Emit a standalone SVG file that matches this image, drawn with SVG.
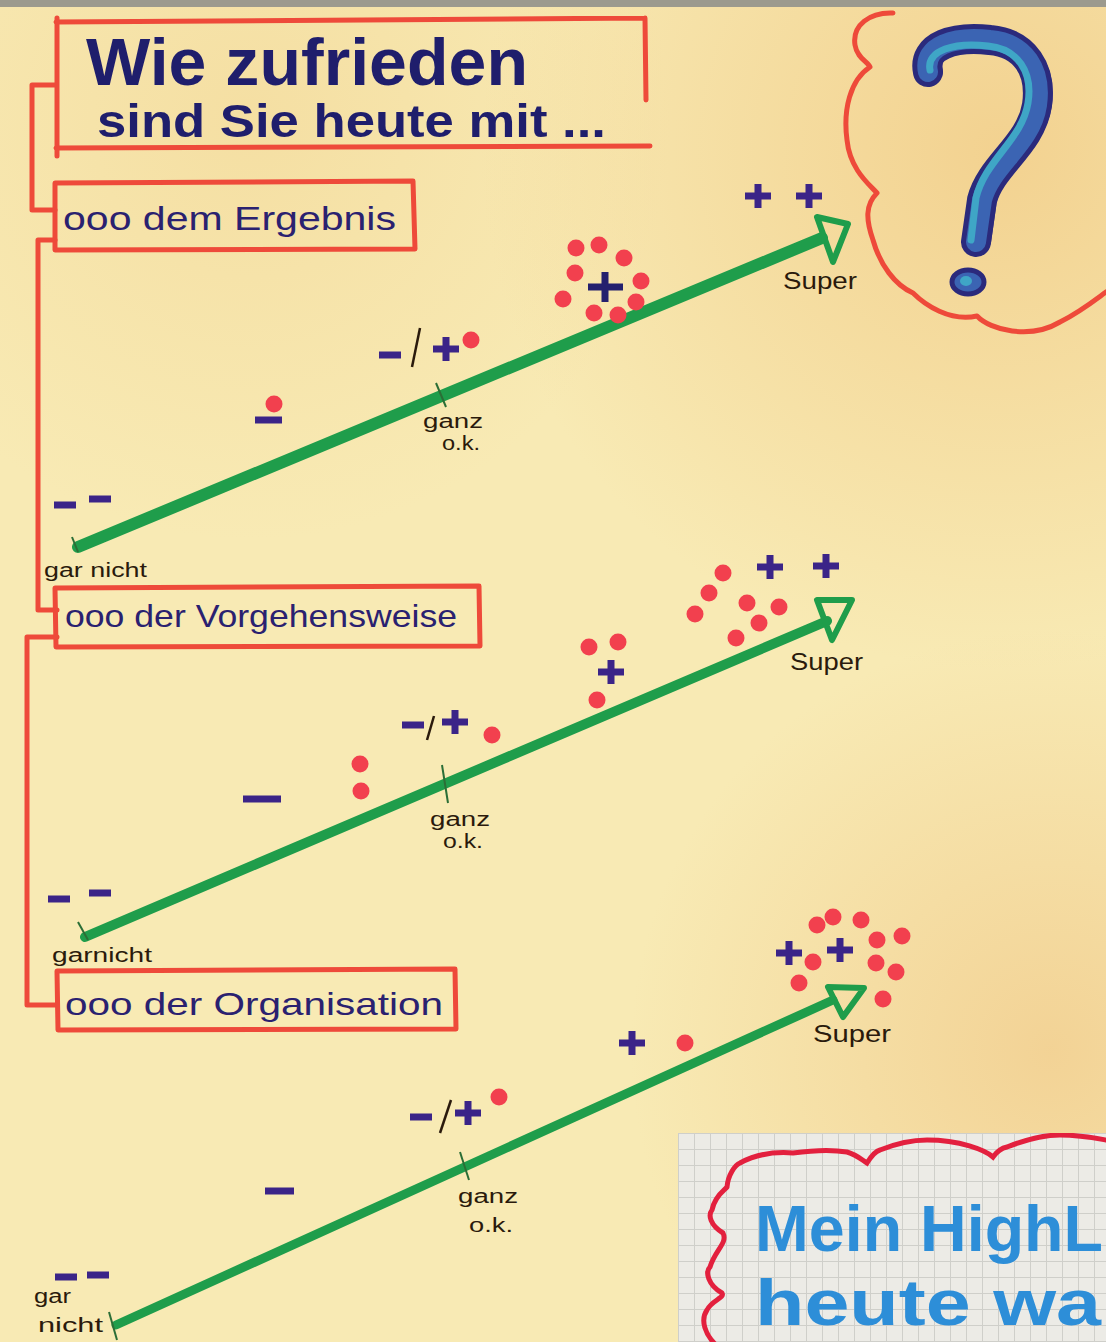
<svg xmlns="http://www.w3.org/2000/svg" xmlns:xlink="http://www.w3.org/1999/xlink" width="1106" height="1342" viewBox="0 0 1106 1342">
  <defs>
    <radialGradient id="warmTR" cx="1000" cy="150" r="520" gradientUnits="userSpaceOnUse">
      <stop offset="0" stop-color="#f2cf8c" stop-opacity="0.9"/>
      <stop offset="1" stop-color="#f2cf8c" stop-opacity="0"/>
    </radialGradient>
    <radialGradient id="warmBR" cx="1050" cy="1050" r="420" gradientUnits="userSpaceOnUse">
      <stop offset="0" stop-color="#f2d092" stop-opacity="0.9"/>
      <stop offset="1" stop-color="#f2d092" stop-opacity="0"/>
    </radialGradient>
    <radialGradient id="warmTL" cx="250" cy="120" r="420" gradientUnits="userSpaceOnUse">
      <stop offset="0" stop-color="#f4dc9e" stop-opacity="0.8"/>
      <stop offset="1" stop-color="#f4dc9e" stop-opacity="0"/>
    </radialGradient>
    <pattern id="grid" x="678" y="1133" width="16" height="16" patternUnits="userSpaceOnUse">
      <rect width="16" height="16" fill="#ecebe6"/>
      <path d="M0,0.5H16M0.5,0V16" stroke="#cfcfca" stroke-width="1" fill="none"/>
    </pattern>
    <clipPath id="insetClip"><rect x="678" y="1133" width="428" height="209"/></clipPath>
    <path id="plus" d="M-13,0H13M0,-12V12"/>
    <path id="minus" d="M-11,0H11"/>
  </defs>
  <style>
    .red { fill: none; stroke: #ee4a3a; stroke-width: 5; stroke-linecap: round; stroke-linejoin: round; }
    .title { font-family: "Liberation Sans", "Noto Sans", sans-serif; fill: #1f1e6c; font-weight: bold; }
    .item { font-family: "Liberation Sans", "Noto Sans", sans-serif; fill: #2a2170; }
    .hand { font-family: "Liberation Sans", "Noto Sans", sans-serif; fill: #2a1a0c; font-size: 20px; }
    .super { font-family: "Liberation Sans", "Noto Sans", sans-serif; fill: #2a1a0c; font-size: 24px; }
    .scale { fill: none; stroke: #1f9d4b; stroke-linecap: round; }
    .head { fill: none; stroke: #1f9d4b; stroke-width: 6; stroke-linejoin: round; }
    .tick { stroke: #2b6e36; stroke-width: 2; }
    .p { stroke: #3b2488; stroke-width: 7; fill: none; }
    .dot { fill: #f2404e; }
    .blue { font-family: "Liberation Sans", "Noto Sans", sans-serif; font-weight: bold; font-size: 65px; fill: #2d8ed8; }
  </style>

  <!-- paper -->
  <rect x="0" y="0" width="1106" height="1342" fill="#f8eab4"/>
  <rect x="0" y="0" width="1106" height="1342" fill="url(#warmTL)"/>
  <rect x="0" y="0" width="1106" height="1342" fill="url(#warmTR)"/>
  <rect x="0" y="0" width="1106" height="1342" fill="url(#warmBR)"/>
  <rect x="0" y="0" width="1106" height="7" fill="#9c9a8e"/>

  <!-- connectors (left brackets) -->
  <g id="connectors">
    <path class="red" d="M55,85 H32 V210 H55"/>
    <path class="red" d="M55,240 H38 V610 H57"/>
    <path class="red" d="M57,637 H27 V1005 H57"/>
  </g>

  <g id="title">
    <path class="red" d="M56,22 L645,18 M645,18 L646,100 M56,148 L650,146 M57,18 L57,156"/>
    <text class="title" x="86" y="85" font-size="66" textLength="442" lengthAdjust="spacingAndGlyphs">Wie zufrieden</text>
    <text class="title" x="97" y="137" font-size="46" textLength="509" lengthAdjust="spacingAndGlyphs">sind Sie heute mit ...</text>
  </g>

  <g id="box-ergebnis">
    <path class="red" d="M55,183 L413,181 L415,249 L55,250 Z"/>
    <text class="item" x="63" y="230" font-size="34" textLength="333" lengthAdjust="spacingAndGlyphs">ooo dem Ergebnis</text>
  </g>

  <g id="box-vorgehensweise">
    <path class="red" d="M55,588 L479,586 L480,646 L56,647 Z"/>
    <text class="item" x="65" y="627" font-size="32" textLength="392" lengthAdjust="spacingAndGlyphs">ooo der Vorgehensweise</text>
  </g>

  <g id="box-organisation">
    <path class="red" d="M57,971 L455,969 L456,1029 L58,1030 Z"/>
    <text class="item" x="65" y="1015" font-size="32" textLength="378" lengthAdjust="spacingAndGlyphs">ooo der Organisation</text>
  </g>

  <g id="question-cloud">
    <path class="red" d="M893,13 C870,12 852,25 855,45 C857,58 868,62 870,67 C850,80 843,110 847,140 C850,170 870,185 877,193 C865,205 866,220 873,240 C880,265 895,285 913,293 C925,305 950,322 977,316 C990,330 1030,340 1060,322 C1080,312 1095,300 1106,292"/>
    <g fill="none" stroke-linecap="round" stroke-linejoin="round">
      <path d="M936,72 C930,45 963,36 998,40 C1033,43 1050,70 1045,105 C1039,145 999,165 990,200 L984,242" stroke="#4a3a92" stroke-width="14"/>
      <path d="M928,72 C922,45 955,36 990,40 C1025,43 1042,70 1037,105 C1031,145 991,165 982,200 L976,242" stroke="#2b2a7c" stroke-width="30"/>
      <path d="M928,72 C922,45 955,36 990,40 C1025,43 1042,70 1037,105 C1031,145 991,165 982,200 L976,242" stroke="#3b64b3" stroke-width="20"/>
      <path d="M930,70 C926,50 955,42 988,46 C1018,49 1033,72 1028,103 C1022,140 985,160 976,198 L971,240" stroke="#3fa6c6" stroke-width="7"/>
    </g>
    <ellipse cx="968" cy="282" rx="16" ry="12" fill="#3b64b3" stroke="#2b2a7c" stroke-width="5"/>
    <ellipse cx="966" cy="281" rx="6" ry="5" fill="#3fa6c6"/>
  </g>

  <!-- scale 1: dem Ergebnis -->
  <g id="scale-ergebnis">
    <path class="scale" stroke-width="12" d="M78,547 L822,238"/>
    <path class="head" d="M817,217 L848,224 L833,262 Z"/>
    <line class="tick" x1="72" y1="537" x2="78" y2="552"/>
    <line class="tick" x1="436" y1="383" x2="446" y2="407"/>
    <text class="hand" x="44" y="577" textLength="103" lengthAdjust="spacingAndGlyphs">gar nicht</text>
    <text class="hand" x="423" y="428" textLength="60" lengthAdjust="spacingAndGlyphs">ganz</text>
    <text class="hand" x="442" y="450" textLength="38" lengthAdjust="spacingAndGlyphs">o.k.</text>
    <text class="super" x="783" y="289" textLength="74" lengthAdjust="spacingAndGlyphs">Super</text>
    <use href="#minus" class="p" x="65" y="505"/>
    <use href="#minus" class="p" x="100" y="499"/>
    <circle class="dot" cx="274" cy="404" r="8.5"/>
    <path d="M255,420H282" class="p"/>
    <use href="#minus" class="p" x="390" y="355"/>
    <line x1="412" y1="367" x2="420" y2="328" stroke="#2a1a0c" stroke-width="2.5"/>
    <use href="#plus" class="p" x="446" y="349"/>
    <circle class="dot" cx="471" cy="340" r="8.5"/>
    <circle class="dot" cx="576" cy="248" r="8.5"/>
    <circle class="dot" cx="599" cy="245" r="8.5"/>
    <circle class="dot" cx="624" cy="258" r="8.5"/>
    <circle class="dot" cx="575" cy="273" r="8.5"/>
    <circle class="dot" cx="641" cy="281" r="8.5"/>
    <circle class="dot" cx="563" cy="299" r="8.5"/>
    <circle class="dot" cx="594" cy="313" r="8.5"/>
    <circle class="dot" cx="618" cy="315" r="8.5"/>
    <circle class="dot" cx="636" cy="302" r="8.5"/>
    <path d="M588,287H623M605,272V302" stroke="#24206e" stroke-width="7"/>
    <use href="#plus" class="p" x="758" y="196"/>
    <use href="#plus" class="p" x="809" y="196"/>
  </g>

  <!-- scale 2: der Vorgehensweise -->
  <g id="scale-vorgehensweise">
    <path class="scale" stroke-width="10" d="M85,937 L827,621"/>
    <path class="head" d="M817,600 L852,600 L832,640 Z"/>
    <line class="tick" x1="78" y1="922" x2="88" y2="940"/>
    <line class="tick" x1="442" y1="765" x2="448" y2="803"/>
    <text class="hand" x="52" y="962" textLength="100" lengthAdjust="spacingAndGlyphs">garnicht</text>
    <text class="hand" x="430" y="826" textLength="60" lengthAdjust="spacingAndGlyphs">ganz</text>
    <text class="hand" x="443" y="848" textLength="40" lengthAdjust="spacingAndGlyphs">o.k.</text>
    <text class="super" x="790" y="670" textLength="73" lengthAdjust="spacingAndGlyphs">Super</text>
    <use href="#minus" class="p" x="59" y="899"/>
    <use href="#minus" class="p" x="100" y="893"/>
    <path d="M243,799H281" class="p"/>
    <circle class="dot" cx="360" cy="764" r="8.5"/>
    <circle class="dot" cx="361" cy="791" r="8.5"/>
    <use href="#minus" class="p" x="413" y="725"/>
    <line x1="427" y1="740" x2="434" y2="716" stroke="#2a1a0c" stroke-width="2.5"/>
    <use href="#plus" class="p" x="455" y="722"/>
    <circle class="dot" cx="492" cy="735" r="8.5"/>
    <circle class="dot" cx="589" cy="647" r="8.5"/>
    <circle class="dot" cx="618" cy="642" r="8.5"/>
    <use href="#plus" class="p" x="611" y="672"/>
    <circle class="dot" cx="597" cy="700" r="8.5"/>
    <circle class="dot" cx="723" cy="573" r="8.5"/>
    <circle class="dot" cx="709" cy="593" r="8.5"/>
    <circle class="dot" cx="695" cy="614" r="8.5"/>
    <circle class="dot" cx="747" cy="603" r="8.5"/>
    <circle class="dot" cx="779" cy="607" r="8.5"/>
    <circle class="dot" cx="759" cy="623" r="8.5"/>
    <circle class="dot" cx="736" cy="638" r="8.5"/>
    <use href="#plus" class="p" x="770" y="567"/>
    <use href="#plus" class="p" x="826" y="566"/>
  </g>

  <!-- scale 3: der Organisation -->
  <g id="scale-organisation">
    <path class="scale" stroke-width="9" d="M116,1325 L833,1000"/>
    <path class="head" d="M828,987 L864,988 L843,1017 Z"/>
    <line class="tick" x1="109" y1="1312" x2="117" y2="1340"/>
    <line class="tick" x1="460" y1="1152" x2="469" y2="1180"/>
    <text class="hand" x="34" y="1303" textLength="37" lengthAdjust="spacingAndGlyphs">gar</text>
    <text class="hand" x="38" y="1332" textLength="65" lengthAdjust="spacingAndGlyphs">nicht</text>
    <text class="hand" x="458" y="1203" textLength="60" lengthAdjust="spacingAndGlyphs">ganz</text>
    <text class="hand" x="469" y="1232" textLength="44" lengthAdjust="spacingAndGlyphs">o.k.</text>
    <text class="super" x="813" y="1042" font-size="22" textLength="78" lengthAdjust="spacingAndGlyphs">Super</text>
    <use href="#minus" class="p" x="66" y="1277"/>
    <use href="#minus" class="p" x="98" y="1275"/>
    <path d="M265,1191H294" class="p"/>
    <use href="#minus" class="p" x="421" y="1117"/>
    <line x1="440" y1="1133" x2="451" y2="1100" stroke="#2a1a0c" stroke-width="2.5"/>
    <use href="#plus" class="p" x="468" y="1113"/>
    <circle class="dot" cx="499" cy="1097" r="8.5"/>
    <use href="#plus" class="p" x="632" y="1043"/>
    <circle class="dot" cx="685" cy="1043" r="8.5"/>
    <circle class="dot" cx="817" cy="925" r="8.5"/>
    <circle class="dot" cx="833" cy="917" r="8.5"/>
    <circle class="dot" cx="861" cy="920" r="8.5"/>
    <circle class="dot" cx="877" cy="940" r="8.5"/>
    <circle class="dot" cx="902" cy="936" r="8.5"/>
    <circle class="dot" cx="813" cy="962" r="8.5"/>
    <circle class="dot" cx="876" cy="963" r="8.5"/>
    <circle class="dot" cx="896" cy="972" r="8.5"/>
    <circle class="dot" cx="799" cy="983" r="8.5"/>
    <circle class="dot" cx="883" cy="999" r="8.5"/>
    <use href="#plus" class="p" x="789" y="953"/>
    <use href="#plus" class="p" x="840" y="950"/>
  </g>

  <!-- highlight sheet (bottom right) -->
  <g id="highlight-sheet" clip-path="url(#insetClip)">
    <rect x="678" y="1133" width="428" height="209" fill="url(#grid)"/>
    <path d="M717,1346 C705,1335 700,1320 707,1310 C712,1300 725,1298 722,1293 C708,1285 705,1272 710,1267 C715,1250 728,1243 723,1233 C710,1225 708,1215 712,1210 C715,1195 725,1190 727,1187 C728,1175 735,1165 740,1163 C760,1152 780,1152 793,1153 C815,1150 835,1150 847,1152 C857,1155 862,1160 867,1163 C872,1155 876,1151 880,1150 C900,1142 915,1140 927,1140 C960,1140 985,1150 993,1157 C998,1150 1002,1148 1007,1147 C1030,1138 1045,1135 1060,1135 C1080,1135 1095,1138 1106,1140" fill="none" stroke="#e3203e" stroke-width="5" stroke-linecap="round"/>
    <text class="blue" x="755" y="1251" textLength="348" lengthAdjust="spacingAndGlyphs">Mein HighL</text>
    <text class="blue" x="755" y="1325" textLength="346" lengthAdjust="spacingAndGlyphs">heute wa</text>
  </g>
</svg>
